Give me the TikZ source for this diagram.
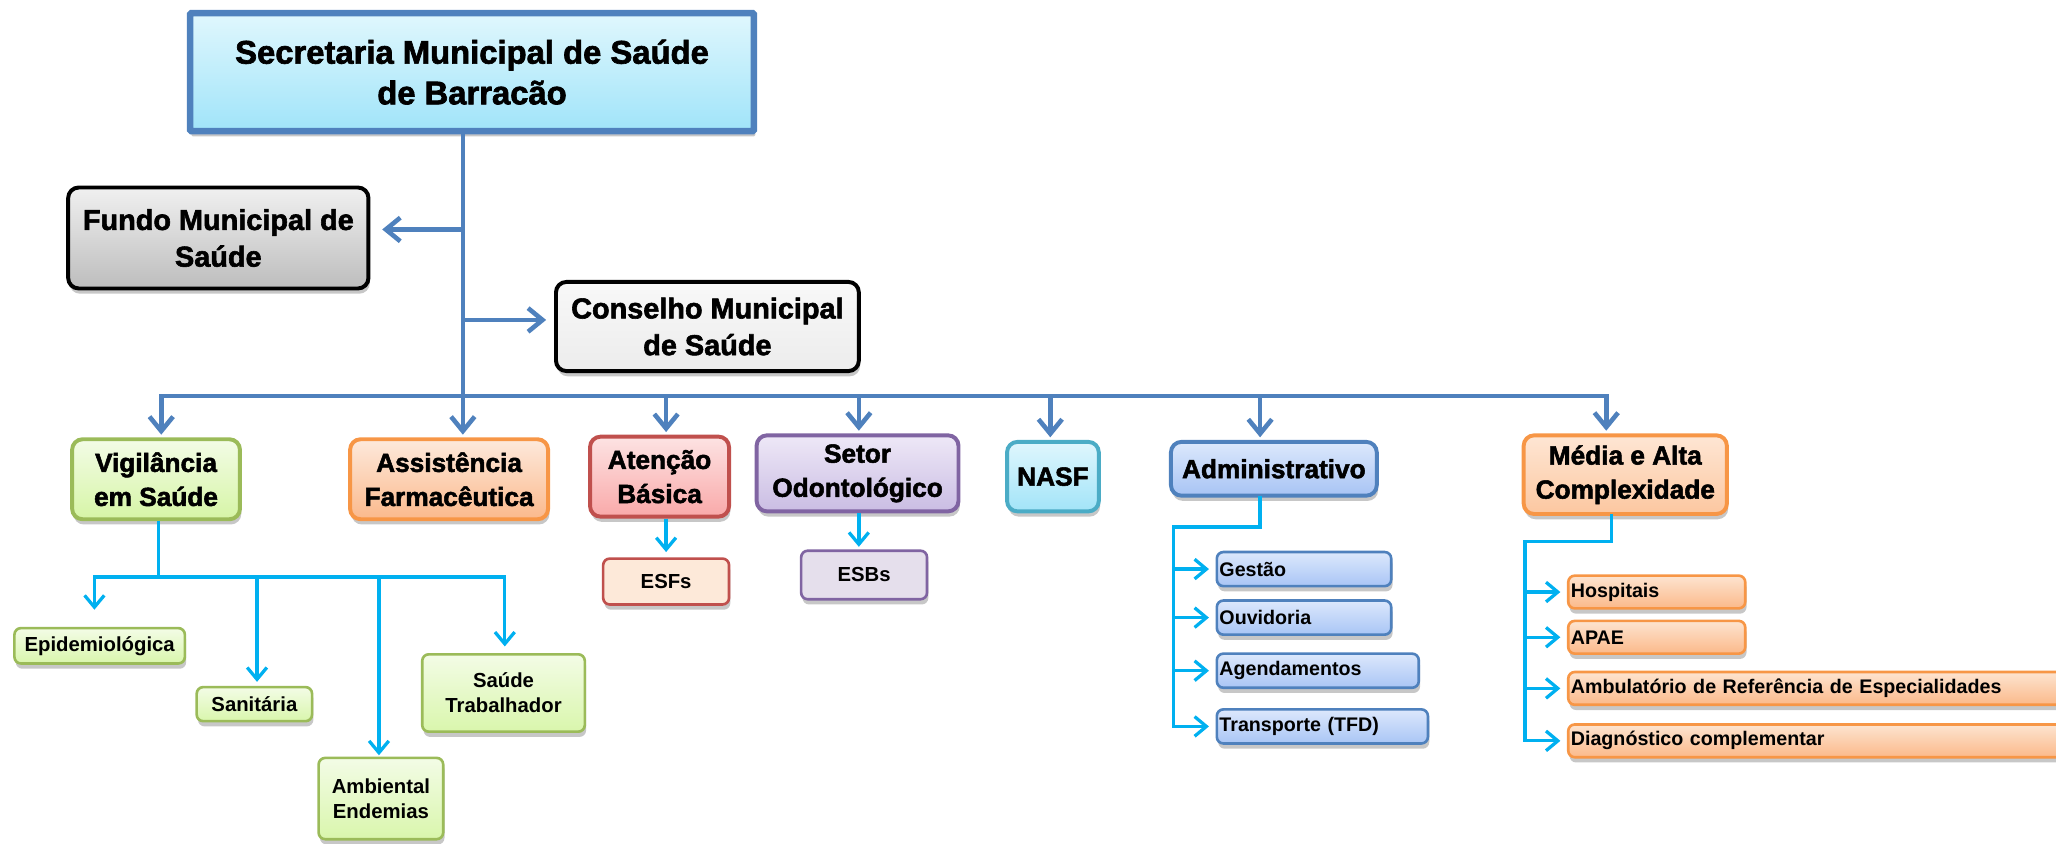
\documentclass[tikz,border=0pt]{standalone}
\usepackage{fontspec}
\setmainfont{Liberation Sans}
\newfontfamily\heavy[BoldFeatures={FakeBold=2}]{Liberation Sans}
\usetikzlibrary{arrows.meta,shadows}
\definecolor{tblue}{HTML}{4F81BD}
\definecolor{tcyan}{HTML}{00B0F0}
\definecolor{gborder}{HTML}{9BBB59}
\definecolor{oborder}{HTML}{F79646}
\definecolor{rborder}{HTML}{C0504D}
\definecolor{pborder}{HTML}{8064A2}
\definecolor{cborder}{HTML}{4BACC6}
\tikzset{
  shad/.style={drop shadow={shadow xshift=1pt,shadow yshift=-4pt,opacity=0.22,fill=black}},
  box/.style={draw,rounded corners=8pt,align=center,inner sep=2pt,font=\heavy\bfseries\fontsize{20}{26}\selectfont,shad},
  sub/.style={draw,rounded corners=5pt,align=center,inner sep=2pt,line width=2pt,font=\bfseries\fontsize{15.5}{19}\selectfont,shad},
  lsub/.style={sub,align=left,text width=#1},
  trunk/.style={line width=3.5pt,tblue},
  barr/.style={trunk,-{Straight Barb[length=11pt,width=18pt]}},
  cline/.style={line width=2.5pt,tcyan},
  carr/.style={cline,-{Straight Barb[length=9pt,width=15pt]}},
}
\begin{document}
\begin{tikzpicture}[x=1pt,y=-1pt]
\useasboundingbox (0,0) rectangle (1568,643);
% top
\node[draw=tblue,line width=5pt,rounded corners=1pt,minimum width=430pt,minimum height=90pt,
  top color={rgb,255:red,224;green,247;blue,253},bottom color={rgb,255:red,160;green,228;blue,249},
  align=center,font=\heavy\bfseries\fontsize{25}{31}\selectfont,shad] (sec) at (360,55)
  {Secretaria Municipal de Saúde\\de Barracão};
\node[box,line width=3pt,minimum width=229pt,minimum height=77pt,font=\heavy\bfseries\fontsize{22}{28}\selectfont,
  top color={rgb,255:red,240;green,240;blue,240},bottom color={rgb,255:red,189;green,189;blue,189}] (fundo) at (166.5,181.5)
  {Fundo Municipal de\\Saúde};
\node[box,line width=3pt,minimum width=231pt,minimum height=68pt,font=\heavy\bfseries\fontsize{22}{28}\selectfont,
  top color={rgb,255:red,248;green,248;blue,248},bottom color={rgb,255:red,236;green,236;blue,236}] (cons) at (539.5,249)
  {Conselho Municipal\\de Saúde};
% level 2
\node[box,draw=gborder,line width=3pt,minimum width=128pt,minimum height=61pt,
  top color={rgb,255:red,243;green,252;blue,230},bottom color={rgb,255:red,214;green,245;blue,166}] (vig) at (119,365.5)
  {Vigilância\\em Saúde};
\node[box,draw=oborder,line width=3pt,minimum width=151pt,minimum height=61pt,
  top color={rgb,255:red,253;green,233;blue,220},bottom color={rgb,255:red,251;green,185;blue,140}] (assist) at (342.5,365.5)
  {Assistência\\Farmacêutica};
\node[box,draw=rborder,line width=3pt,minimum width=106pt,minimum height=61pt,
  top color={rgb,255:red,253;green,227;blue,227},bottom color={rgb,255:red,249;green,169;blue,169}] (aten) at (503,363.5)
  {Atenção\\Básica};
\node[box,draw=pborder,line width=3pt,minimum width=154pt,minimum height=58pt,
  top color={rgb,255:red,238;green,232;blue,247},bottom color={rgb,255:red,202;green,189;blue,227}] (odonto) at (654,361)
  {Setor\\Odontológico};
\node[box,draw=cborder,line width=3pt,minimum width=70pt,minimum height=53pt,
  top color={rgb,255:red,223;green,246;blue,253},bottom color={rgb,255:red,162;green,228;blue,248}] (nasf) at (803,363.5)
  {NASF};
\node[box,draw=tblue,line width=3pt,minimum width=157pt,minimum height=41pt,
  top color={rgb,255:red,220;green,232;blue,252},bottom color={rgb,255:red,168;green,196;blue,244}] (adm) at (971.5,357.5)
  {Administrativo};
\node[box,draw=oborder,line width=3pt,minimum width=155pt,minimum height=60pt,
  top color={rgb,255:red,254;green,230;blue,212},bottom color={rgb,255:red,252;green,199;blue,160}] (media) at (1239.5,362)
  {Média e Alta\\Complexidade};
% vigilancia children
\tikzset{vg/.style={sub,draw=gborder,top color={rgb,255:red,243;green,252;blue,230},bottom color={rgb,255:red,217;green,246;blue,172}}}
\node[vg,minimum width=130pt,minimum height=27pt] (epi) at (76,492.5) {Epidemiológica};
\node[vg,minimum width=88pt,minimum height=26pt] (sani) at (194,537) {Sanitária};
\node[vg,minimum width=95pt,minimum height=62pt] (amb) at (290.5,609) {Ambiental\\Endemias};
\node[vg,minimum width=124pt,minimum height=59pt] (trab) at (384,528.5) {Saúde\\Trabalhador};
\node[sub,draw=rborder,fill={rgb,255:red,253;green,233;blue,217},minimum width=96pt,minimum height=35pt] (esf) at (508,443.5) {ESFs};
\node[sub,draw=pborder,fill={rgb,255:red,229;green,223;blue,236},minimum width=96pt,minimum height=37pt] (esb) at (659,438.5) {ESBs};
% adm children
\tikzset{ab/.style={lsub=#1,font=\bfseries\fontsize{15}{19}\selectfont,draw=tblue,top color={rgb,255:red,220;green,232;blue,252},bottom color={rgb,255:red,169;green,197;blue,245},minimum height=26pt}}
\node[ab=129pt] (gest) at (994.5,434) {Gestão};
\node[ab=129pt] (ouv) at (994.5,471) {Ouvidoria};
\node[ab=150pt] (agen) at (1005,511.5) {Agendamentos};
\node[ab=157pt] (transp) at (1008.5,554) {Transporte (TFD)};
% media children
\tikzset{mb/.style={lsub=#1,font=\bfseries\fontsize{15}{19}\selectfont,draw=oborder,top color={rgb,255:red,253;green,228;blue,208},bottom color={rgb,255:red,251;green,185;blue,138},minimum height=25pt}}
\node[mb=131pt] (hosp) at (1263.5,451.5) {Hospitais};
\node[mb=131pt] (apae) at (1263.5,486) {APAE};
\node[mb=375pt] (ambul) at (1385.5,525) {Ambulatório de Referência de Especialidades};
\node[mb=375pt] (diag) at (1385.5,565) {Diagnóstico complementar};
% trunk connectors
\coordinate (tx) at (353,302);
\coordinate (jf) at (353,175);
\coordinate (jc) at (353,244);
\coordinate (b1) at (123,302);
\coordinate (b3) at (508,302);
\coordinate (b4) at (655,302);
\coordinate (b5) at (801,302);
\coordinate (b6) at (961,302);
\coordinate (b7) at (1225,302);
\draw[trunk] (sec.south -| tx) -- (tx);
\draw[barr,shorten >=9pt] (jf) -- (fundo.east |- jf);
\draw[barr,shorten >=6pt] (jc) -- (cons.west |- jc);
\draw[trunk,line cap=rect] (b1) -- (b7);
\draw[barr,shorten >=2pt] (b1) -- (b1 |- vig.north);
\draw[barr,shorten >=2pt] (tx) -- (tx |- assist.north);
\draw[barr,shorten >=2pt] (b3) -- (b3 |- aten.north);
\draw[barr,shorten >=2pt] (b4) -- (b4 |- odonto.north);
\draw[barr,shorten >=2pt] (b5) -- (b5 |- nasf.north);
\draw[barr,shorten >=2pt] (b6) -- (b6 |- adm.north);
\draw[barr,shorten >=2pt] (b7) -- (b7 |- media.north);
% vigilancia connectors
\coordinate (vx) at (121,440);
\coordinate (v1) at (72,440);
\coordinate (v2) at (196,440);
\coordinate (v3) at (289,440);
\coordinate (v4) at (385,440);
\draw[cline] (vig.south -| vx) -- (vx);
\draw[cline,line cap=rect] (v1) -- (v4);
\draw[carr,shorten >=13pt] (v1) -- (v1 |- epi.north);
\draw[carr,shorten >=3pt] (v2) -- (v2 |- sani.north);
\draw[carr,shorten >=1pt] (v3) -- (v3 |- amb.north);
\draw[carr,shorten >=5pt] (v4) -- (v4 |- trab.north);
% esf / esb
\draw[carr,shorten >=4pt] (aten.south -| b3) -- (esf.north -| b3);
\draw[carr,shorten >=2pt] (odonto.south -| b4) -- (esb.north -| b4);
% adm connectors
\coordinate (ax) at (895,402);
\coordinate (ay) at (961,402);
\draw[cline,line cap=rect] (adm.south -| ay) -- (ay) -- (ax) -- (ax |- transp.west);
\draw[carr,shorten >=5pt] (ax |- gest.west) -- (gest.west);
\draw[carr,shorten >=5pt] (ax |- ouv.west) -- (ouv.west);
\draw[carr,shorten >=5pt] (ax |- agen.west) -- (agen.west);
\draw[carr,shorten >=5pt] (ax |- transp.west) -- (transp.west);
% media connectors
\coordinate (mx) at (1163,413);
\coordinate (my) at (1229,413);
\draw[cline,line cap=rect] (media.south -| my) -- (my) -- (mx) -- (mx |- diag.west);
\draw[carr,shorten >=5pt] (mx |- hosp.west) -- (hosp.west);
\draw[carr,shorten >=5pt] (mx |- apae.west) -- (apae.west);
\draw[carr,shorten >=5pt] (mx |- ambul.west) -- (ambul.west);
\draw[carr,shorten >=5pt] (mx |- diag.west) -- (diag.west);
\end{tikzpicture}
\end{document}
